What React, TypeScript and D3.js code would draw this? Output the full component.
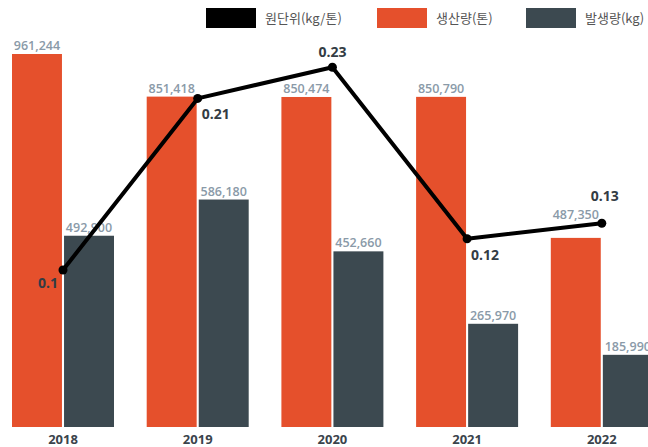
import * as d3 from "d3";
import React, { useEffect, useRef } from "react";

const width = 648;
const height = 447;

const years = ["2018", "2019", "2020", "2021", "2022"];
const production = [961244, 851418, 850474, 850790, 487350]; // 생산량(톤)
const generation = [492900, 586180, 452660, 265970, 185990]; // 발생량(kg)
const unitRate = [0.1, 0.21, 0.23, 0.12, 0.13]; // 원단위(kg/톤)
// where each line label sits relative to its point
const labelPlace = ["bottomLeft", "bottomRight", "top", "bottomRight", "topRight"];

const ORANGE = "#e5502c";
const DARK = "#3c4950";

export default function App() {
  const ref = useRef<HTMLDivElement | null>(null);

  useEffect(() => {
    const holder = ref.current;
    if (!holder || holder.hasChildNodes()) return;
    document.body.style.margin = "0";

    const svg = d3
      .select(holder)
      .append("svg")
      .attr("width", width)
      .attr("height", height)
      .attr("style", "display:block; font-family: 'Open Sans', sans-serif;");

    const x0 = d3.scaleBand().domain(years).range([12, 652.8]).paddingInner(0.2428);
    const x1 = d3.scaleBand().domain(["prod", "gen"]).range([0, x0.bandwidth()]).paddingInner(0.04);
    const yBar = d3.scaleLinear().domain([0, 961244]).range([427, 54]);
    const yLine = d3.scaleLinear().domain([0, 0.25]).range([426, 36]);

    const rows = years.map((y, i) => ({
      year: y,
      prod: production[i],
      gen: generation[i],
      rate: unitRate[i],
      place: labelPlace[i],
    }));

    // bars
    const group = svg
      .append("g")
      .selectAll("g")
      .data(rows)
      .join("g")
      .attr("transform", (d) => `translate(${x0(d.year)},0)`);

    const series = [
      { key: "prod", color: ORANGE },
      { key: "gen", color: DARK },
    ];

    series.forEach((s) => {
      group
        .append("rect")
        .attr("x", x1(s.key)!)
        .attr("width", x1.bandwidth())
        //@ts-ignore
        .attr("y", (d) => yBar(d[s.key]))
        //@ts-ignore
        .attr("height", (d) => yBar(0) - yBar(d[s.key]))
        .attr("fill", s.color);

      group
        .append("text")
        .attr("x", x1(s.key)! + x1.bandwidth() / 2)
        // the 2022 production label is pushed up, clear of the line
        //@ts-ignore
        .attr("y", (d) => yBar(d[s.key]) - (s.key === "prod" && d.year === "2022" ? 19 : 4))
        .attr("text-anchor", "middle")
        .attr("font-size", 12.5)
        .attr("font-weight", 600)
        .attr("fill", "#8a9aa8")
        //@ts-ignore
        .text((d) => d3.format(",")(d[s.key]));
    });

    // x axis labels
    svg
      .append("g")
      .selectAll("text")
      .data(years)
      .join("text")
      .attr("x", (d) => x0(d)! + x0.bandwidth() / 2)
      .attr("y", 444)
      .attr("text-anchor", "middle")
      .attr("font-size", 13)
      .attr("font-weight", 700)
      .attr("fill", "#3a444c")
      .text((d) => d);

    // line
    const cx = (d: any) => x0(d.year)! + x0.bandwidth() / 2;
    const line = d3
      .line<any>()
      .x(cx)
      .y((d) => yLine(d.rate));

    svg
      .append("path")
      .datum(rows)
      .attr("d", line)
      .attr("fill", "none")
      .attr("stroke", "#000")
      .attr("stroke-width", 4)
      .attr("stroke-linejoin", "round");

    svg
      .append("g")
      .selectAll("circle")
      .data(rows)
      .join("circle")
      .attr("cx", cx)
      .attr("cy", (d) => yLine(d.rate))
      .attr("r", 4.5)
      .attr("fill", "#000");

    const off: Record<string, [number, number, string]> = {
      bottomLeft: [-5, 18, "end"],
      bottomRight: [4, 21, "start"],
      top: [0, -10, "middle"],
      topRight: [3, -22, "middle"],
    };

    svg
      .append("g")
      .selectAll("text")
      .data(rows)
      .join("text")
      .attr("x", (d) => cx(d) + off[d.place][0])
      .attr("y", (d) => yLine(d.rate) + off[d.place][1])
      .attr("text-anchor", (d) => off[d.place][2])
      .attr("font-size", 14)
      .attr("font-weight", 700)
      .attr("fill", "#333c44")
      .text((d) => String(d.rate));

    // legend
    const legend = [
      { label: "원단위(kg/톤)", color: "#000", x: 206 },
      { label: "생산량(톤)", color: ORANGE, x: 377 },
      { label: "발생량(kg)", color: DARK, x: 526 },
    ];
    const lg = svg
      .append("g")
      .selectAll("g")
      .data(legend)
      .join("g")
      .attr("transform", (d) => `translate(${d.x},8)`);
    lg.append("rect").attr("width", 50).attr("height", 20).attr("fill", (d) => d.color);
    lg
      .append("text")
      .attr("x", 59)
      .attr("y", 15)
      .attr("font-family", "'Noto Sans CJK KR', sans-serif")
      .attr("font-size", 13)
      .attr("fill", "#555")
      .text((d) => d.label);
  }, []);

  return <div ref={ref} />;
}
